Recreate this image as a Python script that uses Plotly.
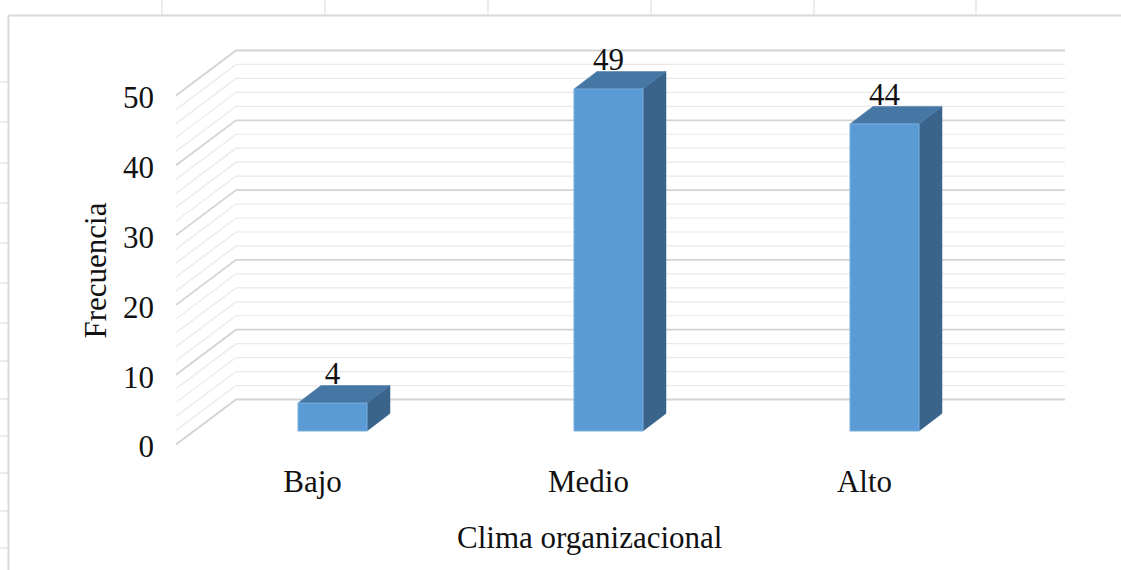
import numpy as np
import plotly.graph_objects as go

# ---------------- data ----------------
categories = ["Bajo", "Medio", "Alto"]
frecuencia = [4, 49, 44]
y_tick_values = [0, 10, 20, 30, 40, 50]
y_minor_step = 2
x_title = "Clima organizacional"
y_title = "Frecuencia"

# ---------------- geometry / style ----------------
W, H = 1121, 570
PX_X = 276.0   # pixels per category step
PX_Y = 6.98    # pixels per value unit
X0 = 332.5     # pixel x of first category (bar plane)
Y0 = 431.0     # pixel y of value 0 (bar plane)

x_range = [(0 - X0) / PX_X, (W - X0) / PX_X]
y_range = [(Y0 - H) / PX_Y, Y0 / PX_Y]

BAR_HALF = 34.5 / PX_X
BAR_DX = 23.0 / PX_X
BAR_DY = 17.5 / PX_Y

WALL_FRONT_X = (176 - X0) / PX_X
WALL_BACK_X = (236 - X0) / PX_X
WALL_RIGHT_X = (1065 - X0) / PX_X
WALL_FRONT_DY = (Y0 - 444.5) / PX_Y
WALL_BACK_DY = (Y0 - 399.5) / PX_Y

LABEL_Y_SHIFT = (446.5 - Y0) / PX_Y     # tick label vertical shift (front plane)
LABEL_X_SHIFT = -20.0 / PX_X            # category label shift (front plane)
DATA_LABEL_DY = 26.5 / PX_Y

FRONT = "#5B9BD5"
TOP = "#4676A4"
SIDE = "#3A648B"
MAJOR = "#d3d3d3"
MINOR = "#e9e9e9"
FONT = "Liberation Serif, Times New Roman, serif"
FS = 31
TXT = "#111111"

fig = go.Figure()

# ---- 3D walls gridlines ----
grid_vals = np.arange(y_tick_values[0], y_tick_values[-1] + y_minor_step, y_minor_step)
major_step = y_tick_values[1] - y_tick_values[0]
for major in (False, True):
    xs, ys = [], []
    for v in grid_vals:
        if (v % major_step == 0) != major:
            continue
        xs += [WALL_FRONT_X, WALL_BACK_X, WALL_RIGHT_X, None]
        ys += [v + WALL_FRONT_DY, v + WALL_BACK_DY, v + WALL_BACK_DY, None]
    fig.add_trace(go.Scatter(
        x=xs, y=ys, mode="lines",
        line=dict(color=MAJOR if major else MINOR, width=1.8 if major else 1.2),
        hoverinfo="skip", showlegend=False))

# ---- bars ----
for i, v in enumerate(frecuencia):
    l, r = i - BAR_HALF, i + BAR_HALF
    fig.add_trace(go.Scatter(
        x=[r, r + BAR_DX, r + BAR_DX, r, r],
        y=[0, BAR_DY, v + BAR_DY, v, 0],
        fill="toself", fillcolor=SIDE, mode="lines",
        line=dict(color=SIDE, width=0.5), hoverinfo="skip", showlegend=False))
    fig.add_trace(go.Scatter(
        x=[l, r, r + BAR_DX, l + BAR_DX, l],
        y=[v, v, v + BAR_DY, v + BAR_DY, v],
        fill="toself", fillcolor=TOP, mode="lines",
        line=dict(color=TOP, width=0.5), hoverinfo="skip", showlegend=False))
    fig.add_trace(go.Scatter(
        x=[l, r, r, l, l],
        y=[0, 0, v, v, 0],
        fill="toself", fillcolor=FRONT, mode="lines",
        line=dict(color="#7aaede", width=1), hoverinfo="skip", showlegend=False))

# ---- data labels ----
fig.add_trace(go.Scatter(
    x=list(range(len(categories))),
    y=[v + DATA_LABEL_DY for v in frecuencia],
    mode="text", text=[str(v) for v in frecuencia],
    textposition="middle center",
    textfont=dict(family=FONT, size=FS, color=TXT),
    hoverinfo="skip", showlegend=False))

# ---- spreadsheet / chart frame decorations ----
shapes = []
frame_col = "#d9d9d9"
shapes.append(dict(type="line", xref="paper", yref="paper",
                   x0=8.5 / W, x1=1, y0=1 - 15.5 / H, y1=1 - 15.5 / H,
                   line=dict(color=frame_col, width=2)))
shapes.append(dict(type="line", xref="paper", yref="paper",
                   x0=8.5 / W, x1=8.5 / W, y0=0, y1=1 - 15.5 / H,
                   line=dict(color=frame_col, width=2)))
for cx in [162, 325, 488, 651, 814, 976]:
    shapes.append(dict(type="line", xref="paper", yref="paper",
                       x0=cx / W, x1=cx / W, y0=1, y1=1 - 15 / H,
                       line=dict(color=frame_col, width=1)))
for ry in [82, 122, 163, 203, 243, 283, 323, 361, 399, 436, 473, 511, 548]:
    shapes.append(dict(type="line", xref="paper", yref="paper",
                       x0=0, x1=8 / W, y0=1 - ry / H, y1=1 - ry / H,
                       line=dict(color=frame_col, width=1)))

annotations = [
    dict(text=x_title, xref="paper", yref="paper", x=589.5 / W, y=1 - 537 / H,
         showarrow=False, font=dict(family=FONT, size=FS, color=TXT),
         xanchor="center", yanchor="middle"),
    dict(text=y_title, xref="paper", yref="paper", x=95 / W, y=1 - 270.5 / H,
         showarrow=False, textangle=-90, font=dict(family=FONT, size=FS, color=TXT),
         xanchor="center", yanchor="middle"),
]

fig.update_layout(
    width=W, height=H, autosize=False,
    margin=dict(l=0, r=0, t=0, b=0),
    paper_bgcolor="white", plot_bgcolor="white",
    showlegend=False,
    shapes=shapes, annotations=annotations,
    xaxis=dict(range=x_range, domain=[0, 1], anchor="free", position=1 - 460 / H,
               tickvals=[i + LABEL_X_SHIFT for i in range(len(categories))],
               ticktext=categories, showgrid=False, zeroline=False, showline=False,
               ticks="", tickfont=dict(family=FONT, size=FS, color=TXT),
               fixedrange=True),
    yaxis=dict(range=y_range, domain=[0, 1], anchor="free", position=154 / W,
               tickvals=[v - LABEL_Y_SHIFT for v in y_tick_values],
               ticktext=[str(v) for v in y_tick_values],
               showgrid=False, zeroline=False, showline=False, ticks="",
               tickfont=dict(family=FONT, size=FS, color=TXT),
               fixedrange=True),
)

fig.write_html("out.html")
